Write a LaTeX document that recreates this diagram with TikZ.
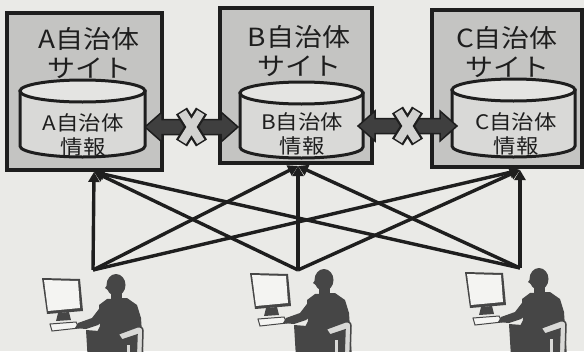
\documentclass[tikz,border=0pt]{standalone}
\usepackage{fontspec}
\newfontfamily\jp[FakeStretch=1.12]{Noto Sans CJK JP}
\usetikzlibrary{arrows.meta,calc}

\definecolor{paper}{HTML}{EAEAE7}
\definecolor{sitegray}{HTML}{C4C4C2}
\definecolor{dbbody}{HTML}{D9D9D7}
\definecolor{dbtop}{HTML}{E4E4E2}
\definecolor{linkdark}{HTML}{3F3F3F}
\definecolor{crossfill}{HTML}{D2D2D0}
\definecolor{figdark}{HTML}{464646}
\definecolor{inkc}{HTML}{1E1E1E}
\definecolor{screenw}{HTML}{F4F4F2}

% database cylinder: centre x, top y, bottom y, half width
\newcommand\dbcylinder[4]{%
  \filldraw[dbfill] ({#1-#4},{#2+11}) -- ({#1-#4},{#3-11})
    arc[start angle=180,end angle=0,x radius=#4,y radius=11]
    -- ({#1+#4},{#2+11}) -- cycle;
  \filldraw[dbcap] (#1,{#2+11}) ellipse[x radius=#4,y radius=11];
}

% fat double-headed link with a cross in the middle: from point a to point b
\newcommand\fatlink[2]{%
  \coordinate (fl-mid) at ($(#1)!0.5!(#2)$);
  \filldraw[linkbody] (#1) -- ($(#1)+(17,-15)$) -- ($(#1)+(17,-7.5)$)
    -- ($(#2)+(-17,-7.5)$) -- ($(#2)+(-17,-15)$) -- (#2)
    -- ($(#2)+(-17,15)$) -- ($(#2)+(-17,7.5)$)
    -- ($(#1)+(17,7.5)$) -- ($(#1)+(17,15)$) -- cycle;
  \draw[line width=13pt,inkc] ($(fl-mid)+(-10,-16)$) -- ($(fl-mid)+(10,16)$)
    ($(fl-mid)+(-10,16)$) -- ($(fl-mid)+(10,-16)$);
  \draw[line width=8.5pt,crossfill] ($(fl-mid)+(-9.2,-14.7)$) -- ($(fl-mid)+(9.2,14.7)$)
    ($(fl-mid)+(-9.2,14.7)$) -- ($(fl-mid)+(9.2,-14.7)$);
}

% a user seated at a computer; origin is the top-left corner of the monitor
\newcommand\workstation[2]{%
  \begin{scope}[shift={(#1,#2)}]
    % monitor
    \fill[figdark] (0,0) -- (38,1) -- (41,33) -- (5,36) -- cycle;
    \fill[screenw] (2,2) -- (36,3) -- (38,30) -- (6,33) -- cycle;
    \fill[figdark] (16,35) -- (27,34) -- (29,42) -- (14,43) -- cycle;
    % keyboard
    \filldraw[fill=screenw,draw=figdark,line width=1pt]
      (8,46) -- (34,44) -- (37,50) -- (10,53) -- cycle;
    % head and neck
    \fill[figdark] (74,7) ellipse[x radius=9.5,y radius=11];
    \fill[figdark] (66,6) -- (63,10) -- (66,12) -- cycle;
    \fill[figdark] (69,13) rectangle (80,23);
    % torso
    \fill[figdark] (57,27) -- (65,21) -- (85,20) -- (95,27) -- (99,40)
      -- (100,55) -- (102,85) -- (50,85) -- (52,60) -- (58,48) -- cycle;
    % arm reaching to the keyboard
    \fill[figdark] (60,27) -- (50,40) -- (36,45) -- (33,50) -- (44,51)
      -- (56,47) -- (68,37) -- cycle;
    % lap
    \fill[figdark] (44,52) -- (70,54) -- (78,85) -- (46,85) -- cycle;
    % chair back
    \filldraw[fill=dbbody,draw=figdark,line width=1.5pt]
      (76,56) -- (95,49) .. controls (99,48) and (101,50) .. (101,53)
      -- (100,85) -- (94,85) -- (95,57) -- (80,62) -- cycle;
    \filldraw[fill=dbbody,draw=figdark,line width=1.2pt]
      (84,66) rectangle (89,85);
  \end{scope}
}

\begin{document}
\begin{tikzpicture}[x=1pt,y=-1pt,
  sitebox/.style={draw=inkc,line width=3.5pt,fill=sitegray,inner sep=0pt},
  dbfill/.style={fill=dbbody,draw=inkc,line width=3pt},
  dbcap/.style={fill=dbtop,draw=inkc,line width=3pt},
  linkbody/.style={fill=linkdark,draw=inkc,line width=1.5pt,line join=miter},
  titletext/.style={font=\jp\fontsize{25}{29}\selectfont,align=center,
    text=inkc,inner sep=0pt},
  infotext/.style={font=\jp\fontsize{20}{24}\selectfont,align=center,
    text=inkc,inner sep=0pt},
  conn/.style={line width=3.4pt,draw=inkc,
    -{Triangle[length=10pt,width=11pt]},line join=miter},
]
\useasboundingbox (0,0) rectangle (584,351);
\clip (0,0) rectangle (584,351);
\fill[paper] (0,0) rectangle (584,351);

% municipal sites
\node[sitebox,minimum width=155pt,minimum height=157pt] (siteA) at (84.5,91.5) {};
\node[sitebox,minimum width=152pt,minimum height=155pt] (siteB) at (296,85.5) {};
\node[sitebox,minimum width=150pt,minimum height=157pt] (siteC) at (507,88.5) {};

\node[titletext] (titleA) at (89,53) {A自治体\\サイト};
\node[titletext] (titleB) at (299,51) {B自治体\\サイト};
\node[titletext] (titleC) at (507,52.5) {C自治体\\サイト};

% municipal information stores
\dbcylinder{82.5}{80}{157}{62.5}
\dbcylinder{301.5}{82}{158}{61.5}
\dbcylinder{513.5}{79}{157}{61.5}

\node[infotext] (infoA) at (83,134.5) {A自治体\\情報};
\node[infotext] (infoB) at (302,134) {B自治体\\情報};
\node[infotext] (infoC) at (516,133.5) {C自治体\\情報};

% blocked links between the stores
\coordinate (abL) at (145,127);
\coordinate (abR) at (238,127);
\coordinate (bcL) at (358,126);
\coordinate (bcR) at (457,126);
\fatlink{abL}{abR}
\fatlink{bcL}{bcR}

% users and their access paths
\coordinate (tA) at (94,172);
\coordinate (tB) at (298,166);
\coordinate (tC) at (520,170);
\coordinate (u1) at (93,270);
\coordinate (u2) at (298,270);
\coordinate (u3) at (520,268);

\foreach \u in {u1,u2,u3}{
  \foreach \t in {tA,tB,tC}{
    \draw[conn] (\u) -- (\t);
  }
}

\workstation{42}{278}
\workstation{250}{273}
\workstation{465}{272}
\end{tikzpicture}
\end{document}
